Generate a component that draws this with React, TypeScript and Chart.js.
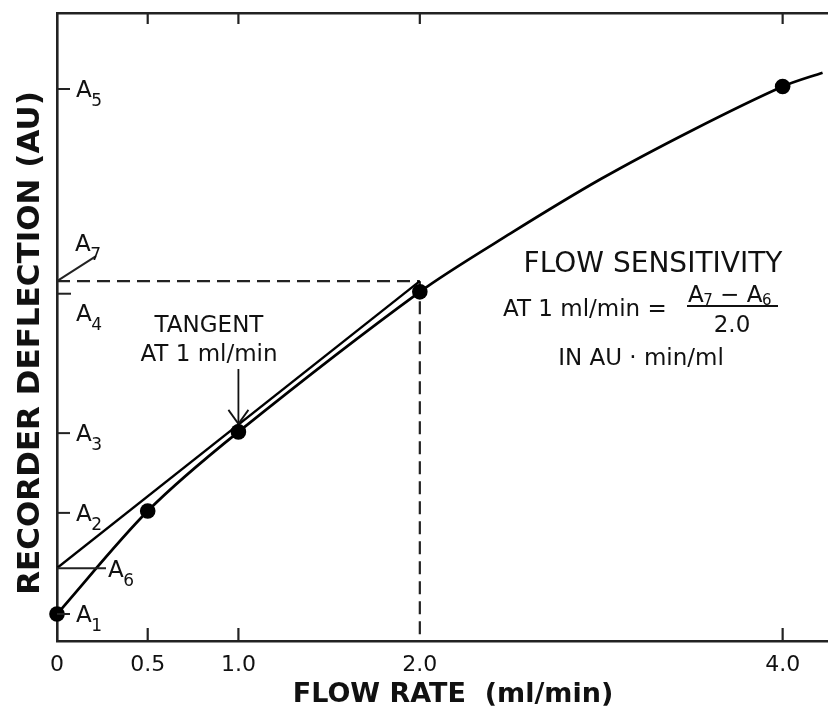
import React, { useEffect, useRef } from 'react';
import { Chart, registerables } from 'chart.js';

Chart.register(...registerables);

// ---- data ----
const flowRates = [0, 0.5, 1.0, 2.0, 4.0];
const deflections = [4.3, 20.7, 33.3, 55.6, 88.3];
const curveFlow = [0, 0.5, 1.0, 2.0, 2.5, 3.0, 3.5, 4.0, 4.22];
const curveDeflection = [4.3, 20.7, 33.3, 55.6, 64.9, 73.6, 81.3, 88.3, 90.5];
const tangentFlow = [0, 2.0];
const tangentDeflection = [11.6, 57.3];
const xTickValues = [0, 0.5, 1.0, 2.0, 4.0];
const xTickLabels = ['0', '0.5', '1.0', '2.0', '4.0'];
const bottomTickMarks = [0.5, 1.0, 4.0];
const topTickMarks = [0.5, 1.0, 2.0, 4.0];
const levelNames = ['A1', 'A2', 'A3', 'A4', 'A5', 'A6', 'A7'];
const levelValues = [4.3, 20.4, 33.1, 55.3, 87.9, 11.6, 57.3];

const FONT = '"DejaVu Sans"';
const INK = '#111111';

function drawSub(
  ctx: CanvasRenderingContext2D,
  x: number,
  baseline: number,
  main: string,
  sub: string,
  mainSize: number,
  subSize: number,
  subDrop: number
): number {
  ctx.textAlign = 'left';
  ctx.textBaseline = 'alphabetic';
  ctx.font = `${mainSize}px ${FONT}`;
  ctx.fillText(main, x, baseline);
  const w = ctx.measureText(main).width;
  ctx.font = `${subSize}px ${FONT}`;
  ctx.fillText(sub, x + w - 0.5, baseline + subDrop);
  return x + w - 0.5 + ctx.measureText(sub).width;
}

function line(ctx: CanvasRenderingContext2D, x1: number, y1: number, x2: number, y2: number) {
  ctx.beginPath();
  ctx.moveTo(x1, y1);
  ctx.lineTo(x2, y2);
  ctx.stroke();
}

const annotationPlugin = {
  id: 'annotations',
  afterDatasetsDraw(chart: any) {
    const { ctx, chartArea } = chart;
    const xs = chart.scales.x;
    const ys = chart.scales.y;
    const { left, top, bottom } = chartArea;
    ctx.save();
    ctx.strokeStyle = '#222';
    ctx.fillStyle = INK;
    ctx.lineCap = 'butt';

    // inward tick marks on bottom and top
    ctx.lineWidth = 2.2;
    bottomTickMarks.forEach((v) => {
      const px = xs.getPixelForValue(v);
      line(ctx, px, bottom, px, bottom - 13);
    });
    topTickMarks.forEach((v) => {
      const px = xs.getPixelForValue(v);
      line(ctx, px, top, px, top + 11);
    });

    // y levels (A1..A7)
    levelNames.forEach((name, i) => {
      const py = ys.getPixelForValue(levelValues[i]);
      const main = name.slice(0, 1);
      const sub = name.slice(1);
      ctx.strokeStyle = '#222';
      ctx.lineWidth = 2;
      if (name === 'A6') {
        line(ctx, left, py, left + 49, py);
        drawSub(ctx, left + 51, py + 9, main, sub, 23, 17, 9);
      } else if (name === 'A7') {
        line(ctx, left, py, left + 39, py - 25);
        drawSub(ctx, left + 18, py - 30, main, sub, 23, 17, 9);
      } else if (name === 'A4') {
        line(ctx, left, py, left + 14, py);
        drawSub(ctx, left + 19, py + 27, main, sub, 23, 17, 9);
      } else {
        line(ctx, left, py, left + 13, py);
        drawSub(ctx, left + 19, py + 8, main, sub, 23, 17, 9);
      }
    });

    // tangent label and arrow
    const ax = xs.getPixelForValue(1.0);
    const tipY = ys.getPixelForValue(deflections[2]) - 8;
    ctx.strokeStyle = '#111';
    ctx.lineWidth = 1.8;
    line(ctx, ax, 369, ax, tipY);
    line(ctx, ax - 10, tipY - 14, ax, tipY);
    line(ctx, ax + 10, tipY - 14, ax, tipY);

    ctx.fillStyle = INK;
    ctx.textAlign = 'center';
    ctx.textBaseline = 'alphabetic';
    ctx.font = `23px ${FONT}`;
    ctx.fillText('TANGENT', 209, 332);
    ctx.fillText('AT 1 ml/min', 209, 361);

    // flow sensitivity block
    ctx.font = `28px ${FONT}`;
    ctx.textAlign = 'center';
    ctx.fillText('FLOW SENSITIVITY', 653, 272);
    ctx.font = `23px ${FONT}`;
    ctx.textAlign = 'left';
    ctx.fillText('AT 1 ml/min =', 503, 316);
    let ex = drawSub(ctx, 688, 302, 'A', '7', 23, 15, 3);
    ctx.font = `23px ${FONT}`;
    ctx.fillText(' \u2212 ', ex, 302);
    ex += ctx.measureText(' \u2212 ').width;
    drawSub(ctx, ex, 302, 'A', '6', 23, 15, 3);
    ctx.strokeStyle = '#111';
    ctx.lineWidth = 2;
    line(ctx, 687, 306, 778, 306);
    ctx.font = `23px ${FONT}`;
    ctx.textAlign = 'center';
    ctx.fillText('2.0', 732, 332);
    ctx.fillText('IN AU \u00b7 min/ml', 641, 365);

    // axis titles
    ctx.font = `bold 27px ${FONT}`;
    ctx.textAlign = 'center';
    ctx.fillText('FLOW RATE  (ml/min)', 453, 702);
    ctx.save();
    ctx.translate(39, 343);
    ctx.rotate(-Math.PI / 2);
    ctx.font = `bold 31px ${FONT}`;
    ctx.textAlign = 'center';
    ctx.fillText('RECORDER DEFLECTION (AU)', 0, 0);
    ctx.restore();

    ctx.restore();
  },
};

export default function App() {
  const canvasRef = useRef<HTMLCanvasElement | null>(null);

  useEffect(() => {
    if (!canvasRef.current) return;
    Chart.defaults.font.family = 'DejaVu Sans';
    const pts = (xsArr: number[], ysArr: number[]) => xsArr.map((x, i) => ({ x, y: ysArr[i] }));
    const noPad = (s: any) => {
      s.paddingLeft = 0;
      s.paddingRight = 0;
    };
    const chart = new Chart(canvasRef.current, {
      type: 'scatter',
      data: {
        datasets: [
          {
            label: 'Measured',
            data: pts(flowRates, deflections),
            showLine: false,
            pointRadius: 7.8,
            pointBackgroundColor: '#000',
            pointBorderWidth: 0,
            clip: false,
            xAxisID: 'x',
            yAxisID: 'y',
          },
          {
            label: 'Response curve',
            data: pts(curveFlow, curveDeflection),
            showLine: true,
            borderColor: '#000',
            borderWidth: 2.7,
            pointRadius: 0,
            tension: 0.3,
            xAxisID: 'x',
            yAxisID: 'y',
          },
          {
            label: 'Tangent',
            data: pts(tangentFlow, tangentDeflection),
            showLine: true,
            borderColor: '#000',
            borderWidth: 2.4,
            pointRadius: 0,
            xAxisID: 'x',
            yAxisID: 'y',
          },
          {
            label: 'A7 level',
            data: [
              { x: 0, y: tangentDeflection[1] },
              { x: tangentFlow[1], y: tangentDeflection[1] },
            ],
            showLine: true,
            borderColor: '#222',
            borderWidth: 2.2,
            borderDash: [13, 7],
            pointRadius: 0,
            xAxisID: 'x',
            yAxisID: 'y',
          },
          {
            label: '2.0 ml/min',
            data: [
              { x: tangentFlow[1], y: tangentDeflection[1] },
              { x: tangentFlow[1], y: 0 },
            ],
            showLine: true,
            borderColor: '#222',
            borderWidth: 2.2,
            borderDash: [13, 7],
            pointRadius: 0,
            xAxisID: 'x',
            yAxisID: 'y',
          },
        ],
      },
      options: {
        animation: false,
        responsive: true,
        maintainAspectRatio: false,
        layout: { padding: 0, autoPadding: false },
        plugins: {
          legend: { display: false },
          tooltip: { enabled: false },
        },
        scales: {
          x: {
            type: 'linear',
            position: 'bottom',
            min: 0,
            max: 4.25,
            afterFit: (s: any) => {
              s.height = 68;
              noPad(s);
            },
            afterBuildTicks: (s: any) => {
              s.ticks = xTickValues.map((v) => ({ value: v }));
            },
            ticks: {
              autoSkip: false,
              maxRotation: 0,
              padding: 11,
              color: INK,
              font: { family: 'DejaVu Sans', size: 22 },
              callback: (v: any) => {
                const i = xTickValues.indexOf(Number(v));
                return i >= 0 ? xTickLabels[i] : '';
              },
            },
            grid: { display: false, drawTicks: false },
            border: { display: true, color: '#222', width: 2.6 },
          },
          xTop: {
            type: 'linear',
            position: 'top',
            min: 0,
            max: 4.25,
            afterFit: (s: any) => {
              s.height = 13;
              noPad(s);
            },
            ticks: { display: false },
            grid: { display: false, drawTicks: false },
            border: { display: true, color: '#222', width: 2.6 },
          },
          y: {
            type: 'linear',
            position: 'left',
            min: 0,
            max: 100,
            afterFit: (s: any) => {
              s.width = 57;
              s.paddingTop = 0;
              s.paddingBottom = 0;
            },
            afterBuildTicks: (s: any) => {
              s.ticks = levelValues.map((v) => ({ value: v }));
            },
            ticks: { display: false },
            grid: { display: false, drawTicks: false },
            border: { display: true, color: '#222', width: 2.6 },
          },
        },
      } as any,
      plugins: [annotationPlugin],
    });
    return () => chart.destroy();
  }, []);

  return (
    <div style={{ position: 'absolute', left: 0, top: 0, width: 828, height: 709, background: '#fff' }}>
      <canvas ref={canvasRef} />
    </div>
  );
}
